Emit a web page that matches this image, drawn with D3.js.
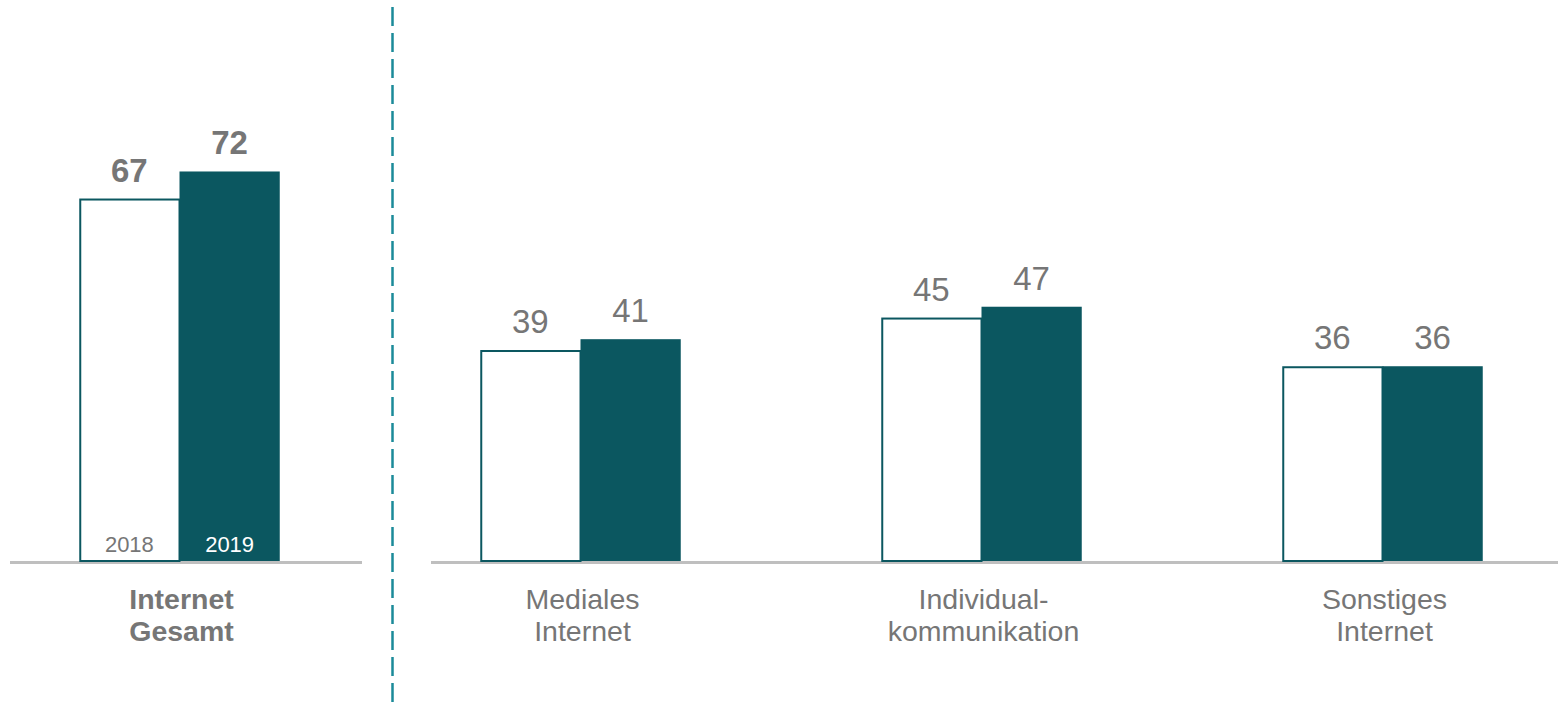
<!DOCTYPE html>
<html>
<head>
<meta charset="utf-8">
<script src="https://cdn.jsdelivr.net/npm/d3@7"></script>
<style>
  html, body { margin: 0; padding: 0; background: #ffffff; }
  svg { display: block; font-family: "Liberation Sans", Arial, sans-serif; }
</style>
</head>
<body>
<svg id="chart" width="1558" height="703"></svg>
<script>
// Internet usage by category, 2018 vs 2019
const categories = ["Internet Gesamt", "Mediales Internet", "Individualkommunikation", "Sonstiges Internet"];
const categoryLines = [["Internet", "Gesamt"], ["Mediales", "Internet"], ["Individual-", "kommunikation"], ["Sonstiges", "Internet"]];
const years = ["2018", "2019"];
const values2018 = [67, 39, 45, 36];
const values2019 = [72, 41, 47, 36];

const svg = d3.select("#chart");
const baseY = 561;

const y = d3.scaleLinear().domain([0, 100]).range([baseY, baseY - 541]);

const x0 = d3.scaleBand()
  .domain(categories)
  .range([-21, 1583])
  .paddingInner(0.5)
  .paddingOuter(0.25);

const x1 = d3.scaleBand()
  .domain(years)
  .range([0, x0.bandwidth()]);

const teal = "#0b5760";
const grey = "#767676";

const rows = categories.map((c, i) => ({
  category: c,
  lines: categoryLines[i],
  bold: i === 0,
  bars: [
    { year: "2018", value: values2018[i] },
    { year: "2019", value: values2019[i] }
  ]
}));

// baseline segments on either side of the divider
svg.append("line")
  .attr("x1", 10).attr("x2", 362)
  .attr("y1", baseY + 1.5).attr("y2", baseY + 1.5)
  .attr("stroke", "#bfbfbf").attr("stroke-width", 3);
svg.append("line")
  .attr("x1", 431).attr("x2", 1558)
  .attr("y1", baseY + 1.5).attr("y2", baseY + 1.5)
  .attr("stroke", "#bfbfbf").attr("stroke-width", 3);

// dashed divider between total and sub-categories
svg.append("line")
  .attr("x1", 392.5).attr("x2", 392.5)
  .attr("y1", 7).attr("y2", 703)
  .attr("stroke", "#1b8a99").attr("stroke-width", 2.5)
  .attr("stroke-dasharray", "19 7");

const groups = svg.selectAll("g.group")
  .data(rows)
  .join("g")
  .attr("class", "group")
  .attr("transform", d => `translate(${x0(d.category)},0)`);

// bars
groups.selectAll("rect")
  .data(d => d.bars)
  .join("rect")
  .attr("x", d => x1(d.year) + (d.year === "2018" ? 1 : 0))
  .attr("y", d => y(d.value) + (d.year === "2018" ? 1 : 0))
  .attr("width", d => x1.bandwidth() - (d.year === "2018" ? 1 : 0))
  .attr("height", d => baseY - y(d.value) - (d.year === "2018" ? 1 : 0))
  .attr("fill", d => d.year === "2018" ? "#ffffff" : teal)
  .attr("stroke", d => d.year === "2018" ? teal : "none")
  .attr("stroke-width", 2);

// value labels
groups.each(function(g) {
  d3.select(this).selectAll("text.value")
    .data(g.bars)
    .join("text")
    .attr("class", "value")
    .attr("x", d => x1(d.year) + x1.bandwidth() / 2)
    .attr("y", d => y(d.value) - 17)
    .attr("text-anchor", "middle")
    .attr("font-size", 33)
    .attr("font-weight", g.bold ? "bold" : "normal")
    .attr("fill", grey)
    .text(d => d.value);
});

// year labels inside the first group's bars
groups.filter((d, i) => i === 0).selectAll("text.year")
  .data(d => d.bars)
  .join("text")
  .attr("class", "year")
  .attr("x", d => x1(d.year) + x1.bandwidth() / 2)
  .attr("y", baseY - 9)
  .attr("text-anchor", "middle")
  .attr("font-size", 22)
  .attr("fill", d => d.year === "2018" ? grey : "#ffffff")
  .text(d => d.year);

// category labels
groups.each(function(g) {
  const t = d3.select(this).append("text")
    .attr("text-anchor", "middle")
    .attr("font-size", 28.5)
    .attr("font-weight", g.bold ? "bold" : "normal")
    .attr("fill", grey);
  g.lines.forEach((line, k) => {
    t.append("tspan")
      .attr("x", x0.bandwidth() / 2 + 2)
      .attr("y", 609 + k * 32)
      .text(line);
  });
});
</script>
</body>
</html>
